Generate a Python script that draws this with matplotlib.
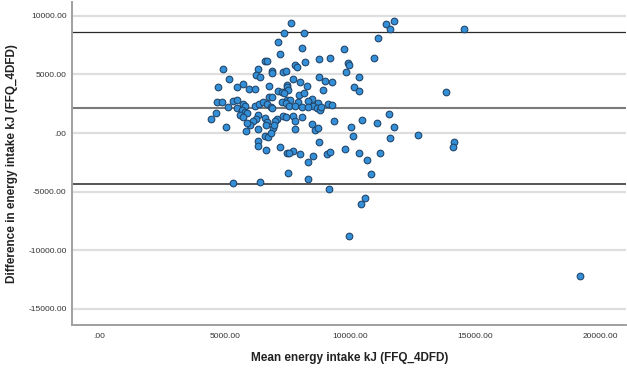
# -*- coding: UTF-8 -*-
"""
    Bland-Altman plot: FFQ vs 4DFD energy intake
"""
import matplotlib
matplotlib.use('Agg')
import matplotlib.pyplot as plt

plt.rcParams['font.family'] = ['Liberation Sans', 'DejaVu Sans']

# mean of the two methods (kJ)
mean_kj = [7629, 7374, 8160, 7134, 8068, 7202, 8758, 6603, 6671, 8180,
           7800, 7868, 4940, 6312, 6871, 6871, 7334, 7441, 6244, 6404,
           8770, 5179, 7733, 5714, 8000, 6775, 7493, 7469, 7533, 8267,
           4740, 5498, 5977, 6204, 7134, 7270, 7362, 7972, 8160, 6775,
           6871, 4700, 4876, 5339, 5474, 7469, 7601, 8467, 8331, 8730,
           5714, 5805, 6204, 6376, 6536, 6671, 6831, 6871, 7270, 7441,
           7573, 7932, 7800, 8068, 8531, 8666, 8798, 5139, 5474, 5674,
           5805, 5873, 4648, 5606, 5738, 6312, 6244, 6137, 6603, 6671,
           6643, 7070, 7002, 7334, 7441, 7733, 7800, 8068, 4437, 6005,
           5873, 6336, 6911, 6963, 7800, 8467, 8598, 8730, 5035, 5845,
           6603, 6735, 6831, 8770, 6336, 6336, 7202, 6643, 7733, 7493,
           7573, 8000, 8531, 8331, 7533, 8307, 5339, 6404, 11431, 11763,
           11591, 14544, 11100, 9744, 9197, 10953, 9903, 9967, 9835, 10342,
           8997, 9265, 10155, 10366, 8930, 13813, 8331, 8838, 9129, 9265,
           9357, 10462, 11084, 11551, 10047, 11739, 10115, 11579, 12708, 14145,
           14117, 9065, 9197, 9795, 10366, 10685, 11180, 10833, 9157, 10593,
           10422, 9967, 19172]

# difference between the two methods (kJ)
diff_kj = [9409, 8504, 8504, 7762, 7225, 6713, 6338, 6142, 6142, 6082,
           5800, 5655, 5485, 5434, 5314, 5144, 5229, 5289, 4947, 4802,
           4751, 4581, 4581, 4180, 4376, 4035, 4094, 3898, 3668, 4052,
           3898, 3898, 3728, 3728, 3608, 3523, 3438, 3241, 3386, 3045,
           3096, 2619, 2670, 2730, 2815, 2815, 2815, 2875, 2730, 2585,
           2474, 2303, 2303, 2474, 2670, 2474, 2243, 2107, 2670, 2533,
           2303, 2670, 2303, 2243, 2303, 2107, 1962, 2192, 2107, 1962,
           1817, 1680, 1680, 1535, 1390, 1535, 1169, 1049, 1254, 964,
           682, 1169, 1049, 1450, 1390, 1450, 1049, 1390, 1194, 682,
           827, 316, 452, 682, 316, 768, 256, 401, 537, 171,
           -256, -316, -26, -742, -657, -1109, -1169, -1450, -1510, -1680,
           -1680, -1817, -1936, -2448, -3438, -3966, -4291, -4180, 9298, 9579,
           8846, 8846, 8104, 7165, 6398, 6423, 5945, 5826, 5178, 4751,
           4461, 4350, 3949, 3583, 3668, 3472, 2243, 2260, 2448, 2388,
           1024, 1083, 853, 1595, 512, 486, -256, -452, -171, -742,
           -1169, -1766, -1621, -1390, -1732, -2278, -1680, -3472, -4751, -5545,
           -6031, -8760, -12172]

# mean difference and limits of agreement
mean_diff = 2110
upper_loa = 8590
lower_loa = -4360

x_ticks = [0, 5000, 10000, 15000, 20000]
x_labels = ['.00', '5000.00', '10000.00', '15000.00', '20000.00']
y_ticks = [10000, 5000, 0, -5000, -10000, -15000]
y_labels = ['10000.00', '5000.00', '.00', '-5000.00', '-10000.00', '-15000.00']

fig = plt.figure(figsize=(6.27, 3.69), dpi=100)
ax = fig.add_axes([0.115, 0.119, 0.884, 0.876])

ax.set_xlim(-1100, 21030)
ax.set_ylim(-16400, 11200)

# grid lines at ticks
for t in y_ticks:
    ax.axhline(t, color='#dedede', lw=1.6, zorder=0)

# reference lines
ax.axhline(upper_loa, color='#2a2a2a', lw=0.9, zorder=1)
ax.axhline(mean_diff, color='#7a7a7a', lw=1.5, zorder=1)
ax.axhline(lower_loa, color='#555555', lw=1.4, zorder=1)

ax.scatter(mean_kj, diff_kj, s=23, facecolor='#3390d8', edgecolor='#23466b',
           linewidths=0.8, zorder=3)

ax.set_xticks(x_ticks)
ax.set_xticklabels(x_labels)
ax.set_yticks(y_ticks)
ax.set_yticklabels(y_labels)
ax.tick_params(axis='both', length=0, labelsize=6, colors='#333333')
ax.tick_params(axis='x', pad=6)
ax.tick_params(axis='y', pad=4)

for side in ['top', 'right']:
    ax.spines[side].set_visible(False)
for side in ['left', 'bottom']:
    ax.spines[side].set_color('#a0a0a0')
    ax.spines[side].set_linewidth(1.4)

ax.set_xlabel('Mean energy intake kJ (FFQ_4DFD)', fontsize=8.5,
              fontweight='bold', color='#222222', labelpad=8)
ax.set_ylabel('Difference in energy intake kJ (FFQ_4DFD)', fontsize=8.5,
              fontweight='bold', color='#222222', labelpad=7)

fig.savefig('out.png', dpi=100)
